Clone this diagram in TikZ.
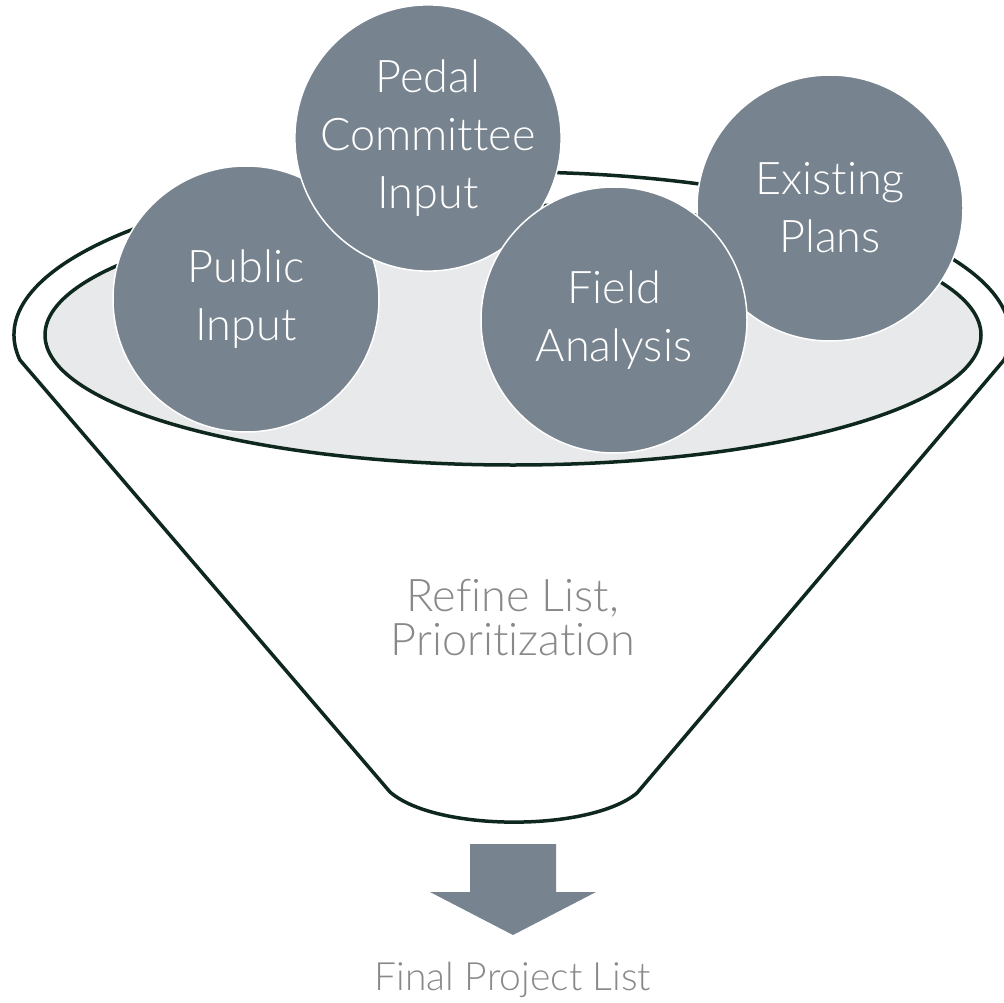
\documentclass[tikz,border=0pt]{standalone}
\usepackage{fontspec}
\setmainfont{Lato Light}[Ligatures={NoCommon}]
\definecolor{slate}{RGB}{119,131,142}
\definecolor{rimfill}{RGB}{232,233,235}
\definecolor{rimline}{RGB}{14,40,30}
\definecolor{txtgray}{RGB}{137,137,137}
\tikzset{
  bub/.style={circle, fill=slate, draw=white, line width=1.5pt, minimum size=266pt,
    inner sep=0pt, text=white, align=center, font=\fontsize{45}{58}\selectfont},
  funnelline/.style={draw=rimline, line width=3.5pt, line join=round},
  label/.style={text=txtgray, align=center, font=\fontsize{45}{44}\selectfont}
}
\begin{document}
\begin{tikzpicture}[x=1pt,y=-1pt]
\useasboundingbox (0,0) rectangle (1004,1003);
% funnel body
\coordinate (L) at ([shift={(512,335)}]171.2:498 and 163);
\coordinate (R) at ([shift={(512,335)}]368.8:498 and 163);
\coordinate (BR) at (637,793);
\coordinate (BL) at (390,792);
\path[funnelline, fill=white] (L) arc[start angle=171.2, end angle=368.8, x radius=498, y radius=163]
  -- (BR) .. controls (590,832) and (436,832) .. (BL) -- cycle;
% inner rim
\path[funnelline, fill=rimfill] (513,335) ellipse [x radius=468, y radius=130];
% circles
\node[bub] (pub) at (246,299) {Public\\Input};
\node[bub] (exi) at (830,208) {Existing\\Plans};
\node[bub] (ped) at (428,138) {Pedal\\Committee\\Input};
\node[bub] (fie) at (614,320) {Field\\Analysis};
% label
\node[label] (ref) at (513,618) {Refine List,\\Prioritization};
% arrow
\path[fill=slate] (470,844) -- (556,844) -- (556,892) -- (596,892) -- (513,935) -- (430,892) -- (470,892) -- cycle;
\node[label, font=\fontsize{39}{44}\selectfont] (fin) at (513,980) {Final Project List};
\end{tikzpicture}
\end{document}
